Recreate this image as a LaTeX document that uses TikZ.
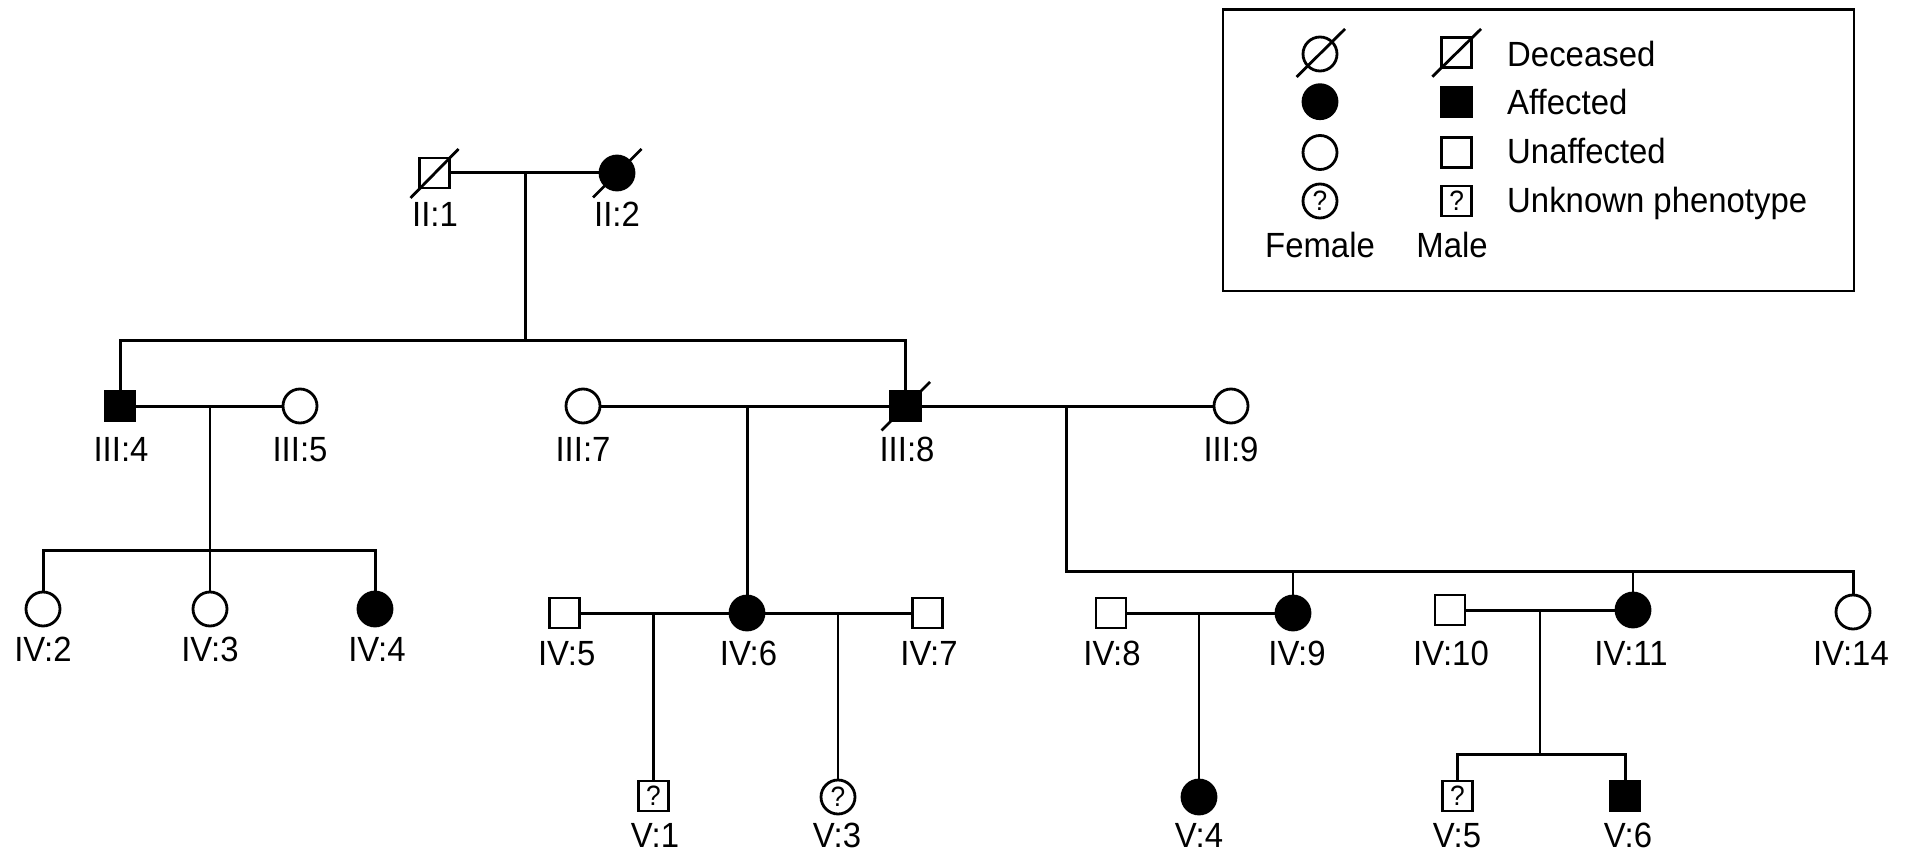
\documentclass[tikz,border=0pt]{standalone}
\usepackage{fontspec}
\setmainfont{Liberation Sans}[FakeStretch=0.94]
\begin{document}
\begin{tikzpicture}[x=1pt,y=-1pt, font=\fontsize{35}{42}\selectfont,
  male/.style={draw, rectangle, line width=2.8pt, minimum size=30pt, inner sep=0pt},
  female/.style={draw, circle, line width=2.8pt, minimum size=34pt, inner sep=0pt},
  aff/.style={fill=black},
  qm/.style={font=\fontsize{28}{32}\selectfont},
  lbl/.style={anchor=base, inner sep=0pt},
  ln/.style={line width=3pt},
  lnthin/.style={line width=2.4pt},
  slash/.style={line width=2.8pt}]
\useasboundingbox (0,0) rectangle (1908,853);

% ---------- individuals ----------
\node[male] (ii1) at (434.5,173) {};
\node[female,aff] (ii2) at (617,173) {};

\node[male,aff] (iii4) at (120,406) {};
\node[female] (iii5) at (300,406) {};
\node[female] (iii7) at (583,406) {};
\node[male,aff] (iii8) at (905.5,406) {};
\node[female] (iii9) at (1231,406) {};

\node[female] (iv2) at (43,609) {};
\node[female] (iv3) at (210,609) {};
\node[female,aff] (iv4) at (375,609) {};
\node[male] (iv5) at (564.5,613) {};
\node[female,aff] (iv6) at (747,613) {};
\node[male] (iv7) at (927.5,613) {};
\node[male] (iv8) at (1111,613) {};
\node[female,aff] (iv9) at (1293,613) {};
\node[male] (iv10) at (1450,610) {};
\node[female,aff] (iv11) at (1633,610) {};
\node[female] (iv14) at (1853,612) {};

\node[male,qm] (v1) at (653.5,796) {?};
\node[female,qm] (v3) at (838,797) {?};
\node[female,aff] (v4) at (1199,797) {};
\node[male,qm] (v5) at (1457.5,796) {?};
\node[male,aff] (v6) at (1625,796) {};

% ---------- labels ----------
\node[lbl] (lii1) at (435,226.7) {II:1};
\node[lbl] (lii2) at (617,226.7) {II:2};
\node[lbl] (liii4) at (121,461.7) {III:4};
\node[lbl] (liii5) at (300,461.7) {III:5};
\node[lbl] (liii7) at (583,461.7) {III:7};
\node[lbl] (liii8) at (907,461.7) {III:8};
\node[lbl] (liii9) at (1231,461.7) {III:9};
\node[lbl] (liv2) at (43,661) {IV:2};
\node[lbl] (liv3) at (210,661) {IV:3};
\node[lbl] (liv4) at (377,661) {IV:4};
\node[lbl] (liv5) at (566.7,665) {IV:5};
\node[lbl] (liv6) at (748.5,665) {IV:6};
\node[lbl] (liv7) at (929,665) {IV:7};
\node[lbl] (liv8) at (1112,665) {IV:8};
\node[lbl] (liv9) at (1297,665) {IV:9};
\node[lbl] (liv10) at (1451,665) {IV:10};
\node[lbl] (liv11) at (1631,665) {IV:11};
\node[lbl] (liv14) at (1851,665) {IV:14};
\node[lbl] (lv1) at (655,847) {V:1};
\node[lbl] (lv3) at (837,847) {V:3};
\node[lbl] (lv4) at (1199,847) {V:4};
\node[lbl] (lv5) at (1457,847) {V:5};
\node[lbl] (lv6) at (1628,847) {V:6};

% ---------- deceased slashes ----------
\draw[slash] (ii1.center) ++(-24,25) -- ++(48,-49);
\draw[slash] (ii2.center) ++(-24,24.5) -- ++(48.5,-48.5);
\draw[slash] (iii8.center) ++(-24,24.5) -- ++(48.5,-48.5);

% ---------- connectors ----------
\coordinate (m21) at (525,173);
\coordinate (s3) at (525,340);
\draw[ln] (ii1.east) -- (ii2.west);
\draw[ln] (m21) -- (s3);
\draw[ln] (iii4.north) |- (s3) -| (iii8.north);

\draw[ln] (iii4.east) -- (iii5.west);
\coordinate (m45) at (210,406);
\coordinate (s4a) at (210,550);
\draw[lnthin] (m45) -- (s4a);
\draw[ln] (iv2.north) |- (s4a) -| (iv4.north);
\draw[lnthin] (s4a) -- (iv3.north);

\draw[ln] (iii7.east) -- (iii8.west);
\coordinate (m78) at (747,406);
\draw[ln] (m78) -- (iv6.north);

\draw[ln] (iii8.east) -- (iii9.west);
\coordinate (m89) at (1066,406);
\coordinate (s4c) at (1066,571);
\draw[ln] (m89) -- (s4c) -| (iv14.north);
\draw[lnthin] (iv9.north) -- (iv9.north |- s4c);
\draw[lnthin] (iv11.north) -- (iv11.north |- s4c);

\draw[ln] (iv5.east) -- (iv6.west);
\draw[ln] (iv6.east) -- (iv7.west);
\coordinate (m56) at (653.5,613);
\coordinate (m67) at (838,613);
\draw[lnthin] (m56) -- (v1.north);
\draw[lnthin] (m67) -- (v3.north);

\draw[ln] (iv8.east) -- (iv9.west);
\coordinate (m89b) at (1199,613);
\draw[lnthin] (m89b) -- (v4.north);

\draw[ln] (iv10.east) -- (iv11.west);
\coordinate (m1011) at (1540,610);
\coordinate (s5) at (1540,754);
\draw[lnthin] (m1011) -- (s5);
\draw[ln] (v5.north) |- (s5) -| (v6.north);

% ---------- legend ----------
\node[draw, line width=2.2pt, minimum width=631.5pt, minimum height=281.5pt, anchor=north west, inner sep=0pt] (legend) at (1221.5,8.5) {};
\node[female] (lf1) at (1320,54) {};
\node[male] (lm1) at (1456.7,52.5) {};
\draw[slash] (lf1.center) ++(-23.5,23) -- ++(48.5,-48);
\draw[slash] (lm1.center) ++(-24.4,24.2) -- ++(48.7,-47.7);
\node[female,aff] (lf2) at (1320,101.7) {};
\node[male,aff] (lm2) at (1456.7,102) {};
\node[female] (lf3) at (1320,152.5) {};
\node[male] (lm3) at (1456.7,152.5) {};
\node[female,qm] (lf4) at (1320,201) {?};
\node[male,qm] (lm4) at (1456.7,201) {?};
\node[lbl, anchor=base west] (t1) at (1507,66.7) {Deceased};
\node[lbl, anchor=base west] (t2) at (1507,115) {Affected};
\node[lbl, anchor=base west] (t3) at (1507,164) {Unaffected};
\node[lbl, anchor=base west] (t4) at (1507,212) {Unknown phenotype};
\node[lbl] (tf) at (1320,257) {Female};
\node[lbl] (tm) at (1452,257) {Male};
\end{tikzpicture}
\end{document}
